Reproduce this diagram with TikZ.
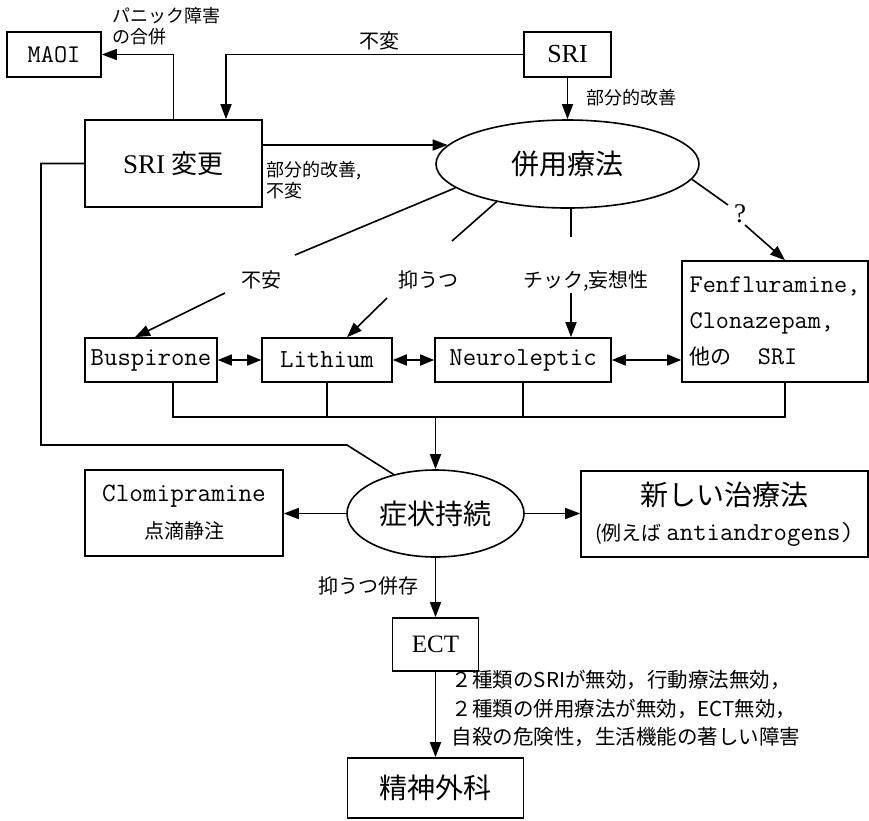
\documentclass[tikz,border=0pt]{standalone}
\usepackage{fontspec}
\setmainfont{Noto Sans CJK JP}
\newfontfamily\jp{Noto Sans CJK JP}
\newfontfamily\srf{Liberation Serif}
\newcommand{\mymono}{\ttfamily}
\usetikzlibrary{arrows.meta,shapes.geometric}
\begin{document}
\begin{tikzpicture}[x=1pt,y=-1pt,
  line width=1.6pt,
  arr/.style={-{Triangle[length=15pt,width=11pt]}},
  darr/.style={{Triangle[length=14pt,width=11pt]}-{Triangle[length=14pt,width=11pt]}},
  box/.style={draw,rectangle,inner sep=0pt,align=center},
  oval/.style={draw,ellipse,inner sep=0pt,font=\jp\fontsize{28}{32}\selectfont},
  lbl/.style={inner sep=0pt,align=left},
  lab/.style={inner sep=0pt,font=\jp\fontsize{20}{24}\selectfont},
  smallfont/.style={font=\jp\fontsize{18}{21}\selectfont},
  latin/.style={font=\mymono\fontsize{26}{30}\selectfont},
]
\useasboundingbox (0,0) rectangle (869,820);

% boxes
\node[box,font=\mymono\fontsize{25.5}{30}\selectfont,minimum width=94pt,minimum height=45pt] (maoi) at (54,54.5) {MAOI};
\node[box,font=\srf\fontsize{26}{30}\selectfont,minimum width=87pt,minimum height=45pt] (sri) at (567.5,54.5) {SRI};
\node[box,font=\srf\fontsize{27}{30}\selectfont,minimum width=177pt,minimum height=87pt] (srichg) at (173.5,163.5) {SRI {\jp\fontsize{26}{30}\selectfont 変更}};
\node[oval,minimum width=263pt,minimum height=88pt] (heiyou) at (567.5,164) {併用療法};

\node[box,latin,minimum width=132pt,minimum height=44pt] (busp) at (151,360) {Buspirone};
\node[box,latin,minimum width=130pt,minimum height=44pt] (lith) at (327,360) {Lithium};
\node[box,latin,minimum width=176pt,minimum height=44pt] (neuro) at (523,360) {Neuroleptic};
\node[box,align=left,font=\mymono\fontsize{25.5}{36}\selectfont,minimum width=186pt,minimum height=121pt] (fenf) at (775,321.5)
  {Fenfluramine,\\Clonazepam,\\{\jp\fontsize{21}{36}\selectfont 他の}\ \ SRI};

\node[oval,minimum width=177pt,minimum height=87pt] (shojo) at (435.5,513.5) {症状持続};
\node[box,font=\mymono\fontsize{26.5}{37}\selectfont,minimum width=198pt,minimum height=86pt] (clomi) at (184,513)
  {Clomipramine\\{\jp\fontsize{20}{37}\selectfont 点滴静注}};
\node[box,font=\jp\fontsize{28}{35}\selectfont,minimum width=287pt,minimum height=86pt] (newther) at (724.5,514)
  {新しい治療法\\{\fontsize{20}{35}\selectfont(例えば}\,{\mymono\fontsize{26}{35}\selectfont antiandrogens)}};
\node[box,font=\srf\fontsize{25}{30}\selectfont,minimum width=86pt,minimum height=53pt] (ect) at (435.5,644.5) {ECT};
\node[box,font=\jp\fontsize{28}{32}\selectfont,minimum width=176pt,minimum height=60pt] (psych) at (435.5,788) {精神外科};

% labels
\node[lbl,smallfont,anchor=west] (panic) at (112,26) {パニック障害\\の合併};
\node[lab] (fuhen) at (379,41) {不変};
\node[lab,smallfont,anchor=west] (bubun) at (586,98) {部分的改善};
\node[lbl,smallfont,anchor=west] (bubun2) at (266,180) {部分的改善,\\不変};
\node[lab] (anx) at (261,280) {不安};
\node[lab] (dep) at (428,280) {抑うつ};
\node[lab] (tic) at (586,281) {チック,妄想性};
\node[lab,font=\srf\fontsize{27}{28}\selectfont] (q) at (740,214) {?};
\node[lab] (depco) at (368,586) {抑うつ併存};
\node[lbl,font=\jp\fontsize{20.5}{28.5}\selectfont,anchor=west] (cond) at (451,708.5)
  {２種類のSRIが無効，行動療法無効，\\２種類の併用療法が無効，ECT無効，\\自殺の危険性，生活機能の著しい障害};

% break coordinates
\coordinate (c1a) at (295,255); \coordinate (c1b) at (225,293);
\coordinate (c2a) at (452,241); \coordinate (c2b) at (387,298);
\coordinate (c3a) at (571,237); \coordinate (c3b) at (571,293);
\coordinate (c4a) at (728,205); \coordinate (c4b) at (745,225);
\coordinate (bl) at (173,417); \coordinate (br) at (785,417);
\coordinate (l1) at (41,445); \coordinate (l2) at (347,445);

% connectors
\draw[arr] (srichg.north) |- (maoi.east);
\draw[arr] (sri.west) -| ([xshift=52.5pt]srichg.north);
\draw[arr] (sri.south) -- (heiyou.north);
\draw[arr] (heiyou.171 -| srichg.east) -- (heiyou.171);

\draw (heiyou.192) -- (c1a);
\draw[arr] (c1b) -- ([xshift=-16pt]busp.north);
\draw (heiyou.208) -- (c2a);
\draw[arr] (c2b) -- ([xshift=20pt]lith.north);
\draw (heiyou.south -| c3a) -- (c3a);
\draw[arr] (c3b) -- (neuro.north -| c3b);
\draw (heiyou.353.5) -- (c4a);
\draw[arr] (c4b) -- ([xshift=10pt]fenf.north);

\draw[darr] (busp.east) -- (lith.west);
\draw[darr] (lith.east) -- (neuro.west);
\draw[darr] (neuro.east) -- (neuro.east -| fenf.west);

\draw (busp.south -| bl) -- (bl) -- (br) -- (fenf.south -| br);
\draw (lith.south) -- (lith.south |- bl);
\draw (neuro.south) -- (neuro.south |- bl);
\draw[arr] (shojo.north |- bl) -- (shojo.north);

\draw (srichg.west) -| (l1) -- (l2) -- (shojo.137);

\draw[arr] (shojo.west) -- (shojo.west -| clomi.east);
\draw[arr] (shojo.east) -- (shojo.east -| newther.west);
\draw[arr] (shojo.south) -- (ect.north);
\draw[arr] (ect.south) -- (psych.north);
\end{tikzpicture}
\end{document}
